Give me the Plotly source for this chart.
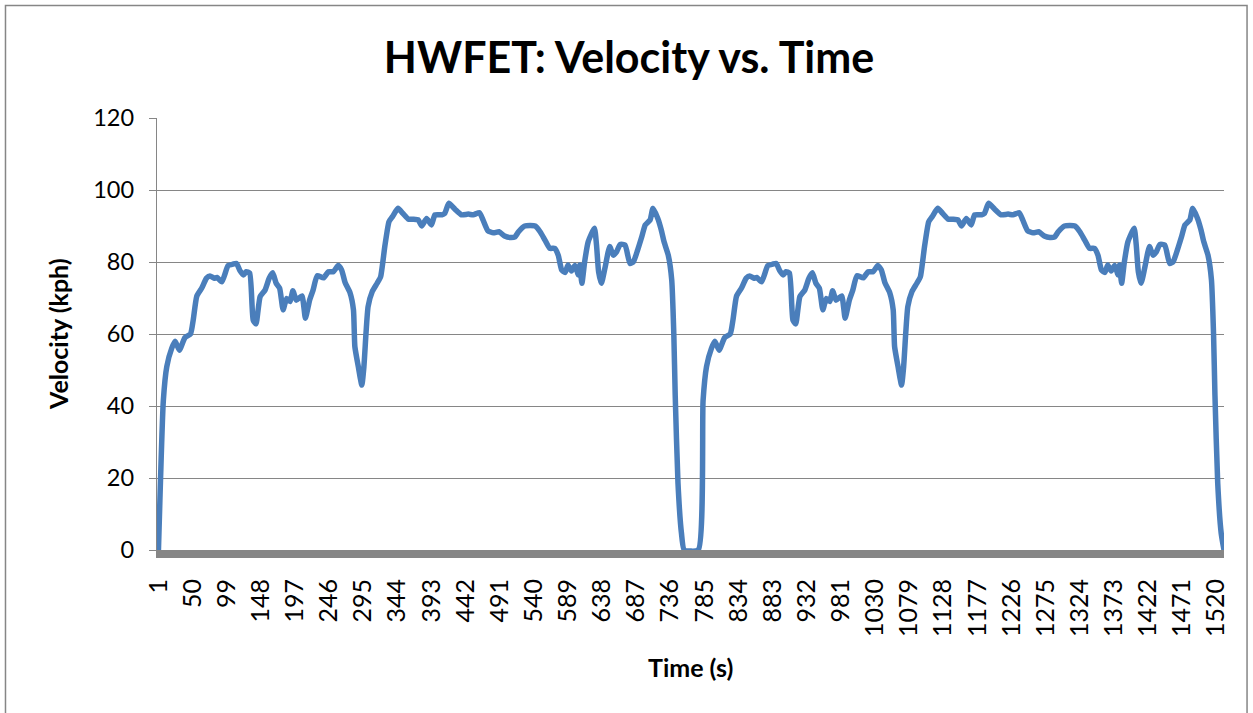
import plotly.graph_objects as go

# HWFET drive cycle, run twice back to back (time index vs. speed in kph)
time_s = [
    1, 8, 13, 20, 25, 31, 39, 47, 51, 56, 63, 70, 75, 81, 85, 92, 101, 108, 113, 118,
    123, 127, 132, 137, 141, 147, 154, 160, 165, 170, 175, 180, 185, 190, 194, 199,
    207, 212, 218, 223, 229, 238, 245, 252, 259, 264, 269, 276, 281, 283, 288, 293,
    296, 299, 302, 308, 315, 320, 326, 332, 337, 345, 352, 360, 367, 374, 379, 386,
    393, 398, 408, 412, 418, 427, 436, 446, 453, 462, 467, 474, 482, 490, 498, 506,
    513, 518, 527, 542, 549, 556, 563, 570, 575, 580, 585, 589, 594, 599, 604, 606,
    609, 613, 618, 627, 630, 633, 637, 642, 649, 654, 659, 664, 671, 678, 683, 689,
    695, 700, 707, 711, 718, 723, 727, 733, 738, 741, 743, 747, 752, 756,
    776, 783, 788, 795, 800, 806, 814, 822, 826, 831, 838, 845, 850, 856, 860, 867,
    876, 883, 888, 893, 898, 902, 907, 912, 916, 922, 929, 935, 940, 945, 950, 955,
    960, 965, 969, 974, 982, 987, 993, 998, 1004, 1013, 1020, 1027, 1034, 1039, 1044,
    1051, 1056, 1058, 1063, 1068, 1071, 1074, 1077, 1083, 1090, 1095, 1101, 1107,
    1112, 1120, 1127, 1135, 1142, 1149, 1154, 1161, 1168, 1173, 1183, 1187, 1193,
    1202, 1211, 1221, 1228, 1237, 1242, 1249, 1257, 1265, 1273, 1281, 1288, 1293,
    1302, 1317, 1324, 1331, 1338, 1345, 1350, 1355, 1360, 1364, 1369, 1374, 1379,
    1381, 1384, 1388, 1393, 1402, 1405, 1408, 1412, 1417, 1424, 1429, 1434, 1439,
    1446, 1453, 1458, 1464, 1470, 1475, 1482, 1486, 1493, 1498, 1502, 1508, 1513,
    1516, 1518, 1522, 1527, 1531,
]
velocity_kph = [
    0, 41.5, 51, 56, 58, 55.5, 59, 60, 64, 70.5, 72.7, 75.5, 76.1, 75.5, 75.7, 74.5,
    79, 79.4, 79.6, 77.6, 76.4, 77.3, 76.9, 63.9, 62.8, 70.4, 72.2, 75.5, 77, 74.1,
    72.7, 66.7, 69.9, 69, 72, 69.4, 70.6, 64.4, 69.4, 72.2, 76.2, 75.6, 77.3, 77.3,
    79, 77.8, 74.3, 71.5, 66.7, 56.5, 50.9, 45.8, 50.9, 60.2, 67.6, 71.8, 74.1, 75.9,
    84.3, 91.2, 92.6, 94.9, 93.5, 91.9, 91.9, 91.7, 90, 92.1, 90.3, 93.1, 93.1, 93.5,
    96.3, 94.6, 93.1, 93.3, 93.1, 93.7, 91.7, 88.7, 88.1, 88.4, 87.2, 86.8, 87, 88.4,
    90, 90, 88.4, 86.1, 83.8, 83.8, 81.9, 77.8, 77.1, 79.2, 77.5, 79, 76.4, 79.2,
    74.1, 80.1, 85.6, 89.4, 84.7, 77.3, 74.1, 78.2, 84.3, 81.9, 82.9, 84.9, 84.7,
    79.6, 80.1, 83.3, 87, 90.3, 91.7, 94.9, 92.1, 88.9, 85.6, 81.9, 75, 60, 43,
    18.5, 4.6, 0,
    0, 41.5, 51, 56, 58, 55.5, 59, 60, 64, 70.5, 72.7, 75.5, 76.1, 75.5, 75.7, 74.5,
    79, 79.4, 79.6, 77.6, 76.4, 77.3, 76.9, 63.9, 62.8, 70.4, 72.2, 75.5, 77, 74.1,
    72.7, 66.7, 69.9, 69, 72, 69.4, 70.6, 64.4, 69.4, 72.2, 76.2, 75.6, 77.3, 77.3,
    79, 77.8, 74.3, 71.5, 66.7, 56.5, 50.9, 45.8, 50.9, 60.2, 67.6, 71.8, 74.1, 75.9,
    84.3, 91.2, 92.6, 94.9, 93.5, 91.9, 91.9, 91.7, 90, 92.1, 90.3, 93.1, 93.1, 93.5,
    96.3, 94.6, 93.1, 93.3, 93.1, 93.7, 91.7, 88.7, 88.1, 88.4, 87.2, 86.8, 87, 88.4,
    90, 90, 88.4, 86.1, 83.8, 83.8, 81.9, 77.8, 77.1, 79.2, 77.5, 79, 76.4, 79.2,
    74.1, 80.1, 85.6, 89.4, 84.7, 77.3, 74.1, 78.2, 84.3, 81.9, 82.9, 84.9, 84.7,
    79.6, 80.1, 83.3, 87, 90.3, 91.7, 94.9, 92.1, 88.9, 85.6, 81.9, 75, 60, 43,
    18.5, 4.6, 0,
]

x_tick_labels = [
    "1", "50", "99", "148", "197", "246", "295", "344", "393", "442", "491", "540",
    "589", "638", "687", "736", "785", "834", "883", "932", "981", "1030", "1079",
    "1128", "1177", "1226", "1275", "1324", "1373", "1422", "1471", "1520",
]
y_tick_values = [0, 20, 40, 60, 80, 100, 120]

GRID = "#868686"
FONT = "Lato"

fig = go.Figure(
    go.Scatter(
        x=time_s,
        y=velocity_kph,
        mode="lines",
        line=dict(color="#4A7EBB", width=5.5, shape="spline", smoothing=0.5),
        hoverinfo="x+y",
    )
)

fig.update_layout(
    width=1253,
    height=713,
    margin=dict(l=157, r=29, t=118, b=163),
    paper_bgcolor="white",
    plot_bgcolor="white",
    showlegend=False,
    font=dict(family=FONT, color="black"),
    title=dict(
        text="<b>HWFET: Velocity vs. Time</b>",
        font=dict(family=FONT, size=43, color="black"),
        x=0.502,
        xref="container",
        xanchor="center",
        y=0.919,
        yref="container",
        yanchor="middle",
    ),
    xaxis=dict(
        range=[-1.1, 1531],
        tickmode="array",
        tickvals=[int(t) for t in x_tick_labels],
        ticktext=x_tick_labels,
        tickangle=-90,
        tickfont=dict(family=FONT, size=25, color="black"),
        showgrid=False,
        zeroline=False,
        showline=True,
        linecolor=GRID,
        linewidth=8,
        ticks="",
        ticklabelstandoff=11,
    ),
    yaxis=dict(
        range=[0, 120],
        tickmode="array",
        tickvals=y_tick_values,
        tickfont=dict(family=FONT, size=23.5, color="black"),
        showgrid=True,
        gridcolor=GRID,
        gridwidth=1.4,
        zeroline=False,
        showline=True,
        linecolor=GRID,
        linewidth=1.4,
        ticks="outside",
        ticklen=7,
        tickwidth=1.4,
        tickcolor=GRID,
        ticklabelstandoff=10,
    ),
    annotations=[
        dict(
            text="<b>Time (s)</b>",
            xref="paper", yref="paper",
            x=0.5, y=-0.271,
            xanchor="center", yanchor="middle",
            showarrow=False,
            font=dict(family=FONT, size=25, color="black"),
        ),
        dict(
            text="<b>Velocity (kph)</b>",
            xref="paper", yref="paper",
            x=-0.0928, y=0.5,
            xanchor="center", yanchor="middle",
            textangle=-90,
            showarrow=False,
            font=dict(family=FONT, size=25, color="black"),
        ),
    ],
    shapes=[
        # chart-area frame
        dict(
            type="rect",
            xref="paper", yref="paper",
            x0=-0.142, x1=1.0216, y0=-0.40, y1=1.2604,
            line=dict(color=GRID, width=1.5),
            fillcolor="rgba(0,0,0,0)",
            layer="below",
        ),
    ],
)

fig.write_html("out.html")
